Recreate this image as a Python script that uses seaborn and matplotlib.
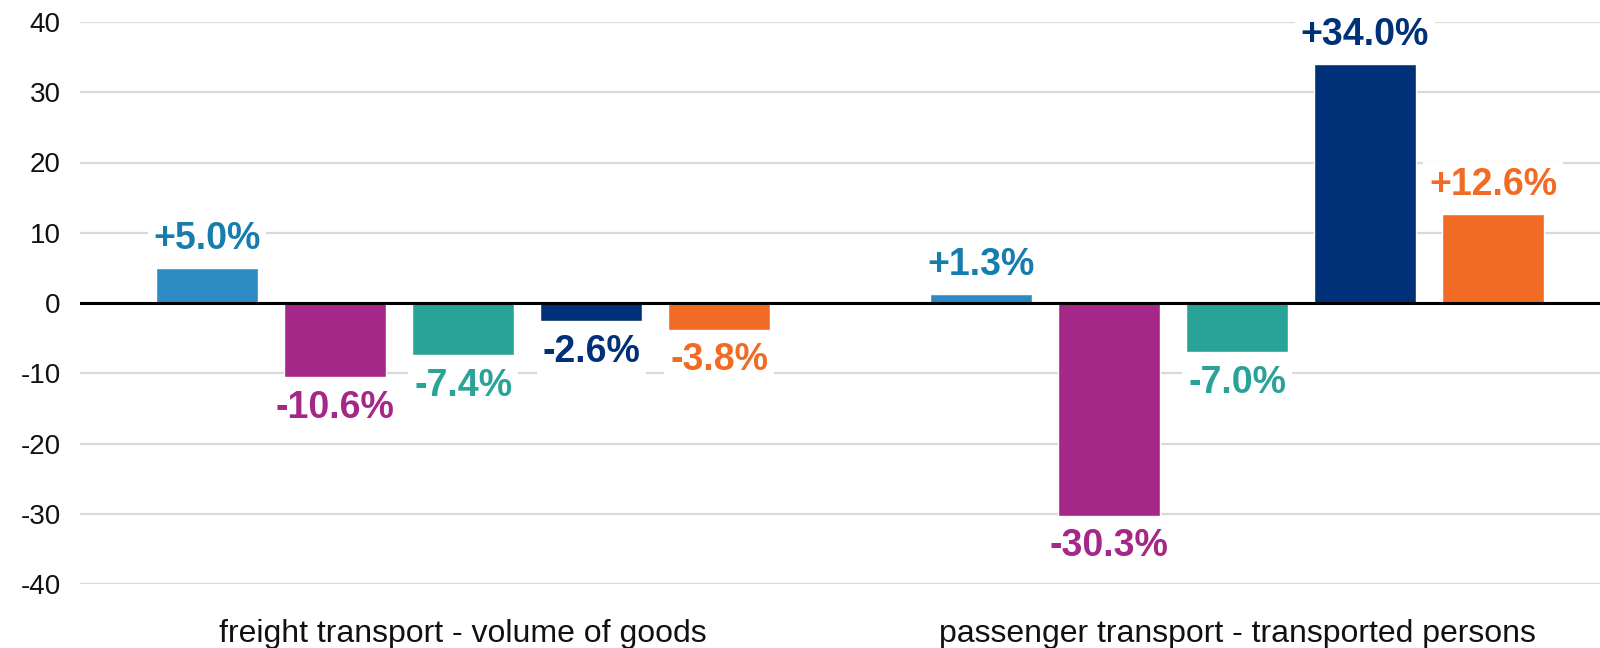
import matplotlib
matplotlib.use("Agg")
import matplotlib.pyplot as plt
from matplotlib import font_manager
import seaborn as sns
import pandas as pd

categories = ["freight transport - volume of goods", "passenger transport - transported persons"]
series = ["series 1", "series 2", "series 3", "series 4", "series 5"]
values_freight = [5.0, -10.6, -7.4, -2.6, -3.8]
values_passenger = [1.3, -30.3, -7.0, 34.0, 12.6]
bar_colors = ["#2D8BC4", "#A52787", "#29A397", "#003077", "#F26B25"]
label_colors = ["#167DAE", "#A52787", "#29A397", "#003077", "#F26B25"]
yticks = [-40, -30, -20, -10, 0, 10, 20, 30, 40]

def has_font(name):
    try:
        font_manager.findfont(font_manager.FontProperties(family=name), fallback_to_default=False)
        return True
    except Exception:
        return False

narrow = "Liberation Sans Narrow" if has_font("Liberation Sans Narrow") else "Liberation Sans"

rows = []
for s, vf, vp in zip(series, values_freight, values_passenger):
    rows.append({"category": categories[0], "series": s, "value": vf})
    rows.append({"category": categories[1], "series": s, "value": vp})
df = pd.DataFrame(rows)

sns.set_style("white")
plt.rcParams["font.family"] = ["Liberation Sans", "DejaVu Sans"]

fig = plt.figure(figsize=(16, 6.48), dpi=100)
ax = fig.add_axes([80 / 1600, 1 - 584 / 648, 1 - 80 / 1600, (584 - 22) / 648])

sns.barplot(data=df, x="category", y="value", hue="series", order=categories,
            hue_order=series, palette=bar_colors, width=0.827, gap=0.2,
            saturation=1, legend=False, ax=ax, errorbar=None, zorder=3)

ax.set_ylim(-40, 40)
ax.set_xlim(-0.495, 1.469)
ax.set_yticks(yticks)
ax.set_yticklabels([str(t) for t in yticks], fontsize=20, color="#111111")
ax.yaxis.grid(True, color="#D9D9D9", linewidth=1.6, zorder=0)
ax.set_axisbelow(True)
ax.axhline(0, color="black", linewidth=2.2, zorder=4)
for sp in ax.spines.values():
    sp.set_visible(False)
ax.tick_params(axis="y", length=0, pad=14)
ax.set_xlabel("")
ax.set_ylabel("")
ax.set_xticks(range(len(categories)))
ax.set_xticklabels(categories, fontsize=23, family=[narrow, "DejaVu Sans"], color="#111111")
ax.tick_params(axis="x", length=0, pad=25)

all_vals = [values_freight, values_passenger]
for i, cont in enumerate(ax.containers):
    for j, bar in enumerate(cont):
        v = all_vals[j][i]
        x = bar.get_x() + bar.get_width() / 2
        off = 21 if v >= 0 else -22
        ax.annotate(f"{v:+.1f}%", xy=(x, v), xytext=(0, off), textcoords="offset points",
                    ha="center", va="center", fontsize=27, fontweight="bold",
                    family=[narrow, "DejaVu Sans"], color=label_colors[i], zorder=5,
                    bbox=dict(boxstyle="square,pad=0.15", fc="white", ec="none"))

fig.savefig("out.png", dpi=100)
